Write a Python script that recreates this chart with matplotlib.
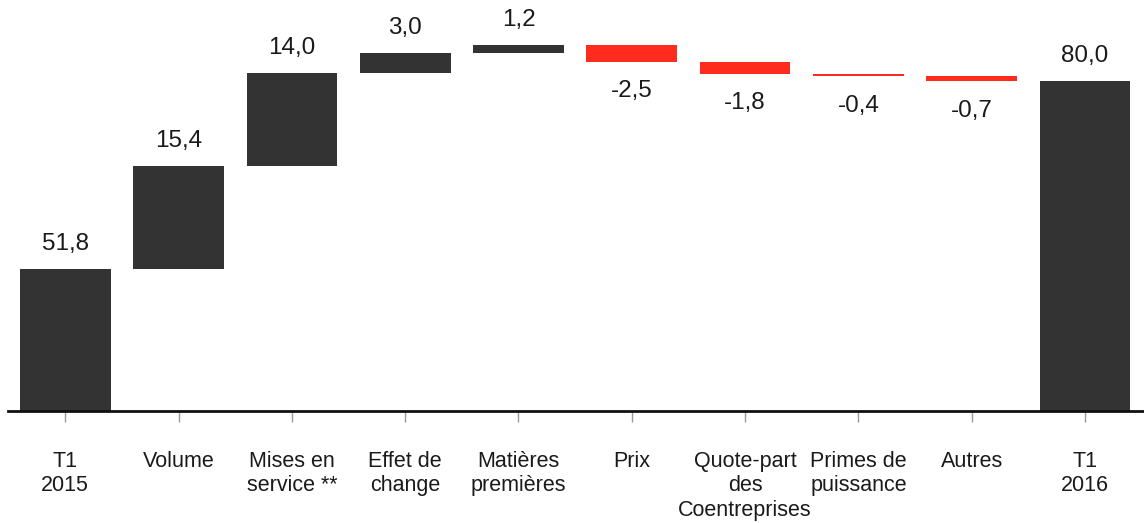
import matplotlib
matplotlib.use("Agg")
import matplotlib.pyplot as plt
import numpy as np

categories = ["T1\n2015", "Volume", "Mises en\nservice **", "Effet de\nchange", "Matières\npremières",
              "Prix", "Quote-part\ndes\nCoentreprises", "Primes de\npuissance", "Autres", "T1\n2016"]
values = [51.8, 15.4, 14.0, 3.0, 1.2, -2.5, -1.8, -0.4, -0.7, 80.0]
labels = ["51,8", "15,4", "14,0", "3,0", "1,2", "-2,5", "-1,8", "-0,4", "-0,7", "80,0"]
is_total = [True, False, False, False, False, False, False, False, False, True]

plt.rcParams['font.family'] = ['Liberation Sans', 'DejaVu Sans']

fig = plt.figure(figsize=(11.44, 5.23), dpi=100)
ax = fig.add_axes([8/1144, (523-411)/523, 1 - 8/1144, 411/523])

ymin, ymax = 30.4, 92.2
dark = "#333333"
red = "#FF2B1E"

cum = 0.0
x = np.arange(len(categories))
for i, (v, tot) in enumerate(zip(values, is_total)):
    if tot:
        bottom, height = ymin, v - ymin
        cum = v
        color = dark
    else:
        bottom = cum if v >= 0 else cum + v
        height = abs(v)
        cum += v
        color = dark if v >= 0 else red
    ax.bar(i, height, bottom=bottom, width=0.8, color=color, linewidth=0)
    top = bottom + height
    if v >= 0:
        ax.text(i, top + 2.1, labels[i], ha="center", va="bottom", fontsize=17.5, color="#1a1a1a")
    else:
        ax.text(i, bottom - 2.8, labels[i], ha="center", va="top", fontsize=17.5, color="#1a1a1a")

ax.set_xlim(-0.505, 9.52)
ax.set_ylim(ymin, ymax)
ax.set_xticks(x)
ax.set_xticklabels(categories, fontsize=15.5, color="#1a1a1a", linespacing=1.2, va="top")
ax.tick_params(axis="x", length=8, width=1, color="#999999", pad=21)
ax.set_yticks([])
for s in ["top", "right", "left"]:
    ax.spines[s].set_visible(False)
ax.spines["bottom"].set_linewidth(2)
ax.spines["bottom"].set_color("#111111")

fig.savefig("out.png", dpi=100)
